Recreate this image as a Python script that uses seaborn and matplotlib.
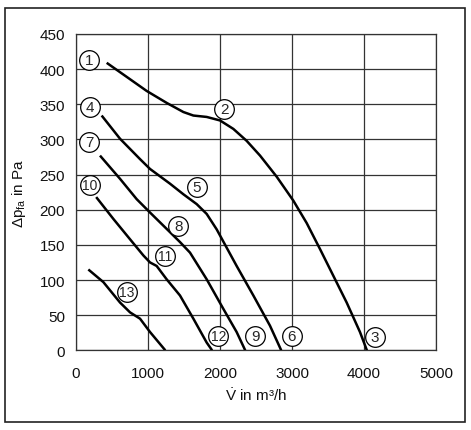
import matplotlib
matplotlib.use('Agg')
import matplotlib.pyplot as plt
import seaborn as sns
import pandas as pd
from matplotlib.patches import Rectangle

# ---- data ----
curve_a_x = [426, 704, 981, 1259, 1491, 1630, 1815, 2000, 2185, 2370, 2556, 2787, 3018, 3204, 3389, 3574, 3759, 3944, 4040]
curve_a_y = [409, 389, 369, 352, 339, 334, 332, 327, 315, 298, 277, 247, 213, 181, 144, 106, 68, 26, 0]

curve_b_x = [356, 611, 889, 1028, 1306, 1491, 1676, 1815, 1954, 2231, 2463, 2694, 2850]
curve_b_y = [334, 301, 272, 258, 237, 222, 208, 194, 172, 120, 78, 35, 0]

curve_c_x = [333, 611, 843, 1028, 1306, 1444, 1583, 1815, 2046, 2231, 2350]
curve_c_y = [277, 244, 215, 196, 168, 154, 139, 101, 59, 26, 0]

curve_d_x = [280, 518, 750, 935, 1028, 1120, 1259, 1444, 1630, 1815, 1890]
curve_d_y = [218, 187, 158, 135, 125, 120, 101, 78, 45, 11, 0]

curve_e_x = [171, 380, 611, 750, 889, 1028, 1240]
curve_e_y = [115, 97, 68, 54, 45, 26, 0]

label_text = ['1', '2', '3', '4', '5', '6', '7', '8', '9', '10', '11', '12', '13']
label_x = [180, 2056, 4153, 194, 1676, 2995, 185, 1421, 2486, 194, 1236, 1977, 704]
label_y = [413, 343, 19, 346, 233, 21, 297, 177, 21, 235, 134, 21, 83]

x_ticks = [0, 1000, 2000, 3000, 4000, 5000]
y_ticks = [0, 50, 100, 150, 200, 250, 300, 350, 400, 450]

# ---- build table ----
frames = []
for name, xs, ys in [('A', curve_a_x, curve_a_y), ('B', curve_b_x, curve_b_y),
                     ('C', curve_c_x, curve_c_y), ('D', curve_d_x, curve_d_y),
                     ('E', curve_e_x, curve_e_y)]:
    frames.append(pd.DataFrame({'curve': name, 'V': xs, 'dp': ys}))
df = pd.concat(frames, ignore_index=True)

sns.set_theme(style='white')
plt.rcParams['font.family'] = ['Liberation Sans', 'DejaVu Sans']
plt.rcParams['mathtext.fontset'] = 'custom'
plt.rcParams['mathtext.rm'] = 'Liberation Sans'
plt.rcParams['mathtext.it'] = 'Liberation Sans:italic'

fig = plt.figure(figsize=(4.71, 4.31), dpi=100)
ax = fig.add_axes([0.1614, 0.1849, 0.7643, 0.7339])

sns.lineplot(data=df, x='V', y='dp', units='curve', estimator=None, sort=False,
             color='black', lw=1.8, ax=ax, zorder=3)
for ln in ax.get_lines():
    ln.set_solid_joinstyle('round')
    ln.set_solid_capstyle('butt')

ax.set_xlim(0, 5000)
ax.set_ylim(0, 450)
ax.set_xticks(x_ticks)
ax.set_yticks(y_ticks)
ax.grid(True, color='#333333', lw=0.9)
ax.set_axisbelow(True)
for s in ax.spines.values():
    s.set_color('#333333')
    s.set_linewidth(0.9)
ax.tick_params(axis='x', length=4, width=0.9, color='#333333', pad=7, labelsize=11, labelcolor='#111111')
ax.tick_params(axis='y', length=6, width=0.9, color='#333333', pad=2, labelsize=11, labelcolor='#111111')

ax.set_xlabel(r'$\dot{\mathrm{V}}$ in m³/h', fontsize=11, labelpad=5, color='#111111')
ax.set_ylabel(r'Δp$_{\mathrm{fa}}$ in Pa', fontsize=11, labelpad=8, color='#111111')

# circled labels
ax.scatter(label_x, label_y, s=200, facecolor='white', edgecolor='black', linewidth=0.9, zorder=5, clip_on=False)
for t, x, y in zip(label_text, label_x, label_y):
    fs = 11 if len(t) == 1 else 10
    ax.text(x, y, t, ha='center', va='center', fontsize=fs, zorder=6,
            family=['Liberation Sans Narrow', 'Liberation Sans'] if len(t) > 1 else 'Liberation Sans')

fig.patches.append(Rectangle((0.010, 0.0186), 0.977, 0.960, transform=fig.transFigure,
                             fill=False, ec='#222222', lw=1.2))

fig.savefig('out.png', dpi=100)
